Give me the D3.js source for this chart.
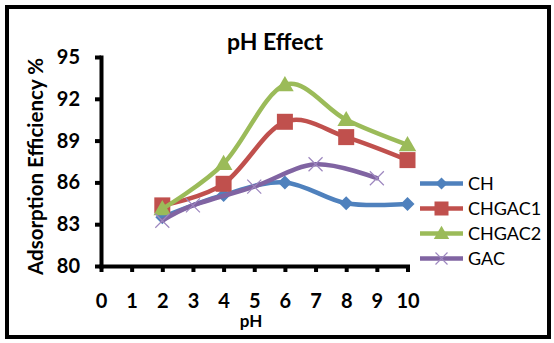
<!DOCTYPE html>
<html>
<head>
<meta charset="utf-8">
<script src="https://cdn.jsdelivr.net/npm/d3@7"></script>
<style>
  body { margin: 0; background: #fff; }
  svg { display: block; font-family: Lato, "DejaVu Sans", sans-serif; }
</style>
</head>
<body>
<svg id="chart" width="554" height="343"></svg>
<script>
// pH values and adsorption efficiency (%)
const phCH = [2, 4, 6, 8, 10];
const valCH = [83.5, 85.1, 86.0, 84.5, 84.45];
const phCHGAC1 = [2, 4, 6, 8, 10];
const valCHGAC1 = [84.35, 85.9, 90.35, 89.25, 87.6];
const phCHGAC2 = [2, 4, 6, 8, 10];
const valCHGAC2 = [84.1, 87.35, 93.0, 90.5, 88.7];
const phGAC = [2, 3, 5, 7, 9];
const valGAC = [83.25, 84.35, 85.7, 87.3, 86.3];

const seriesNames = ['CH', 'CHGAC1', 'CHGAC2', 'GAC'];
const seriesColors = ['#4F81BD', '#C0504D', '#9BBB59', '#8064A2'];
const seriesMarkers = ['diamond', 'square', 'triangle', 'cross'];
const xTicks = [0, 1, 2, 3, 4, 5, 6, 7, 8, 9, 10];
const yTicks = [80, 83, 86, 89, 92, 95];

const series = [
  { name: seriesNames[0], xs: phCH, ys: valCH },
  { name: seriesNames[1], xs: phCHGAC1, ys: valCHGAC1 },
  { name: seriesNames[2], xs: phCHGAC2, ys: valCHGAC2 },
  { name: seriesNames[3], xs: phGAC, ys: valGAC }
];

const svg = d3.select('#chart');

// outer frame
svg.append('rect')
  .attr('x', 7).attr('y', 7)
  .attr('width', 542).attr('height', 330)
  .attr('fill', 'none')
  .attr('stroke', '#000')
  .attr('stroke-width', 4);

const xScale = d3.scaleLinear().domain([0, 10]).range([101, 407.5]);
const yScale = d3.scaleLinear().domain([80, 95]).range([266, 57]);

// axes
const xAxis = d3.axisBottom(xScale).tickValues(xTicks).tickSize(6).tickSizeOuter(0).tickPadding(22);
const yAxis = d3.axisLeft(yScale).tickValues(yTicks).tickSize(6).tickSizeOuter(0).tickPadding(15);

const gx = svg.append('g').attr('transform', 'translate(0,266)').call(xAxis);
const gy = svg.append('g').attr('transform', 'translate(101,0)').call(yAxis);

[gx, gy].forEach(g => {
  g.select('.domain').attr('stroke', '#000').attr('stroke-width', 4).attr('stroke-linecap', 'square');
  g.selectAll('.tick line').attr('stroke', '#000').attr('stroke-width', 4);
  g.selectAll('.tick text')
    .attr('fill', '#000')
    .style('font-family', 'Lato, sans-serif')
    .style('font-size', '20px')
    .style('font-weight', 'bold');
});

// titles
svg.append('text')
  .attr('x', 275).attr('y', 50)
  .attr('text-anchor', 'middle')
  .style('font-size', '23px').style('font-weight', 'bold')
  .text('pH Effect');

svg.append('text')
  .attr('x', 251).attr('y', 327)
  .attr('text-anchor', 'middle')
  .style('font-size', '17px').style('font-weight', 'bold')
  .text('pH');

svg.append('text')
  .attr('transform', 'translate(43,166.5) rotate(-90)')
  .attr('text-anchor', 'middle')
  .style('font-size', '20.5px').style('font-weight', 'bold')
  .text('Adsorption Efficiency %');

// markers
function drawMarker(g, type, color, cx, cy, s) {
  if (type === 'diamond') {
    g.append('path')
      .attr('d', `M${cx},${cy - s}L${cx + s},${cy}L${cx},${cy + s}L${cx - s},${cy}Z`)
      .attr('fill', color);
  } else if (type === 'square') {
    g.append('rect')
      .attr('x', cx - s).attr('y', cy - s)
      .attr('width', 2 * s).attr('height', 2 * s)
      .attr('fill', color);
  } else if (type === 'triangle') {
    g.append('path')
      .attr('d', `M${cx},${cy - s * 1.1}L${cx + s * 1.1},${cy + s * 0.8}L${cx - s * 1.1},${cy + s * 0.8}Z`)
      .attr('fill', color);
  } else {
    g.append('path')
      .attr('d', `M${cx - s},${cy - s}L${cx + s},${cy + s}M${cx - s},${cy + s}L${cx + s},${cy - s}`)
      .attr('stroke', '#9d87bf').attr('stroke-width', 1.2).attr('fill', 'none');
  }
}

const line = d3.line()
  .x(d => xScale(d[0]))
  .y(d => yScale(d[1]))
  .curve(d3.curveCardinal.tension(0));

const markerSize = [7, 8, 8, 7];

series.forEach((s, i) => {
  const pts = s.xs.map((x, j) => [x, s.ys[j]]);
  svg.append('path')
    .attr('d', line(pts))
    .attr('fill', 'none')
    .attr('stroke', seriesColors[i])
    .attr('stroke-width', 4.5)
    .attr('stroke-linejoin', 'round')
    .attr('stroke-linecap', 'round');
  const mg = svg.append('g');
  pts.forEach(p => drawMarker(mg, seriesMarkers[i], seriesColors[i], xScale(p[0]), yScale(p[1]), markerSize[i]));
});

// legend
const legend = svg.append('g');
seriesNames.forEach((name, i) => {
  const y = 183.5 + i * 25;
  legend.append('line')
    .attr('x1', 420).attr('x2', 463)
    .attr('y1', y).attr('y2', y)
    .attr('stroke', seriesColors[i]).attr('stroke-width', 4.5);
  drawMarker(legend, seriesMarkers[i], seriesColors[i], 441.5, y, markerSize[i] - 1);
  legend.append('text')
    .attr('x', 468).attr('y', y + 6.5)
    .style('font-size', '18px')
    .text(name);
});
</script>
</body>
</html>
